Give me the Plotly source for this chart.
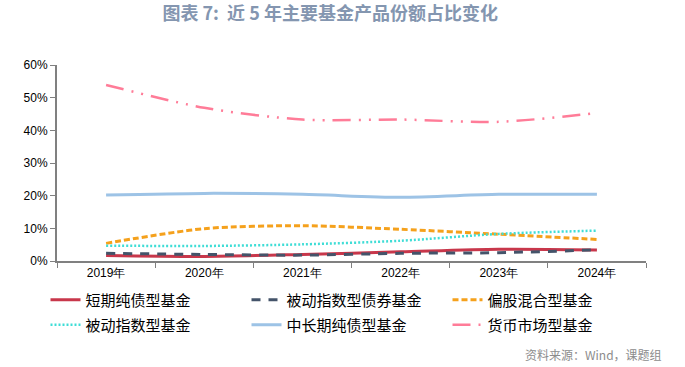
import plotly.graph_objects as go

years = ["2019年", "2020年", "2021年", "2022年", "2023年", "2024年"]

short_bond = [1.7, 1.4, 2.0, 2.8, 3.6, 3.4]          # 短期纯债型基金
index_bond = [2.35, 2.0, 1.8, 2.35, 2.55, 3.4]       # 被动指数型债券基金
equity_mix = [5.4, 9.9, 10.8, 9.7, 8.2, 6.6]         # 偏股混合型基金
index_fund = [4.7, 4.6, 5.1, 6.2, 8.3, 9.3]          # 被动指数型基金
mid_long_bond = [20.2, 20.7, 20.4, 19.5, 20.4, 20.4] # 中长期纯债型基金
money_market = [53.9, 46.9, 43.3, 43.3, 42.6, 45.3]  # 货币市场型基金

y_ticks = [0, 10, 20, 30, 40, 50, 60]
y_tick_labels = ["0%", "10%", "20%", "30%", "40%", "50%", "60%"]

series = [
    ("短期纯债型基金", short_bond, "#C8374B", "solid", 3, "legend"),
    ("被动指数型债券基金", index_bond, "#44546A", "9px,8px", 3, "legend"),
    ("偏股混合型基金", equity_mix, "#F5A11C", "6px,3px", 3, "legend"),
    ("被动指数型基金", index_fund, "#3FDDD6", "2px,2px", 2.5, "legend2"),
    ("中长期纯债型基金", mid_long_bond, "#9DC3E6", "solid", 3, "legend2"),
    ("货币市场型基金", money_market, "#FF7C98", "18px,8px,2px,8px,2px,8px", 2.5, "legend2"),
]

fig = go.Figure()
for name, vals, color, dash, width, lg in series:
    fig.add_trace(go.Scatter(
        x=years, y=vals, name=name, mode="lines", legend=lg,
        line=dict(color=color, dash=dash, width=width, shape="spline", smoothing=0.8),
    ))

legend_common = dict(
    orientation="h", xref="paper", yref="paper",
    x=(45.5 - 57) / 589, xanchor="left", yanchor="middle",
    entrywidth=156, entrywidthmode="pixels",
    font=dict(family="Noto Sans CJK SC", size=15, color="black"),
    itemwidth=30, bgcolor="rgba(0,0,0,0)",
)

fig.update_layout(
    width=685, height=367,
    margin=dict(l=57, r=39, t=65, b=106, autoexpand=False),
    paper_bgcolor="white", plot_bgcolor="white",
    showlegend=True,
    title=dict(
        text="<b>图表 7:&nbsp;&nbsp;近 5 年主要基金产品份额占比变化</b>",
        x=0.482, xanchor="center", y=1 - 14 / 367, yanchor="middle",
        font=dict(family="Noto Sans CJK SC", size=18, color="#8496B0"),
    ),
    legend=dict(legend_common, y=(261 - 300) / 196),
    legend2=dict(legend_common, y=(261 - 325) / 196),
    xaxis=dict(
        type="category", range=[-0.5, 5.5],
        tickson="boundaries", ticks="outside", ticklen=5, tickcolor="#808080",
        showline=True, linecolor="#808080", linewidth=1.5,
        showgrid=False, zeroline=False,
        tickfont=dict(family="Liberation Sans", size=12, color="black"),
    ),
    yaxis=dict(
        range=[0, 60], tickvals=y_ticks, ticktext=y_tick_labels,
        ticks="outside", ticklen=5, tickcolor="#808080",
        showline=True, linecolor="#808080", linewidth=2,
        showgrid=False, zeroline=False,
        tickfont=dict(family="Liberation Sans", size=12, color="black"),
    ),
    annotations=[dict(
        text="资料来源：Wind，课题组", xref="paper", yref="paper",
        x=(664 - 57) / 589, y=(261 - 354) / 196, xanchor="right", yanchor="middle",
        showarrow=False,
        font=dict(family="Noto Sans CJK SC", size=12, color="#8C8C8C"),
    )],
)

fig.write_html("out.html", config={"displayModeBar": False},
               post_script="document.body.style.margin='0';")
